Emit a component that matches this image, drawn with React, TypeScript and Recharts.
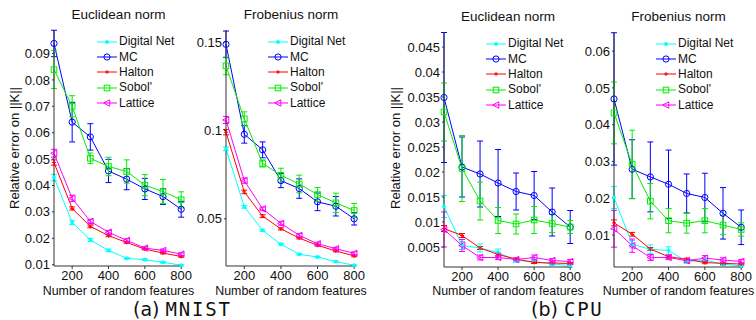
import React from 'react';
import { LineChart, Line, XAxis, YAxis, ErrorBar } from 'recharts';

const FONT = '"Liberation Sans", Arial, Helvetica, sans-serif';

const FEATURES = [100, 200, 300, 400, 500, 600, 700, 800];
const X_TICKS = [200, 400, 600, 800];

// (a) MNIST, Euclidean norm
const mnistEucDigitalNet = [0.043, 0.026, 0.0194, 0.0154, 0.0124, 0.0119, 0.0109, 0.0098];
const mnistEucMC = [0.0938, 0.064, 0.0584, 0.0455, 0.0424, 0.0387, 0.0358, 0.031];
const mnistEucHalton = [0.0487, 0.0313, 0.0245, 0.021, 0.0184, 0.0159, 0.0144, 0.0131];
const mnistEucSobol = [0.0839, 0.07, 0.0503, 0.0472, 0.0453, 0.0401, 0.0377, 0.0346];
const mnistEucLattice = [0.0522, 0.0351, 0.0264, 0.0223, 0.0192, 0.0163, 0.0154, 0.014];
const mnistEucDigitalNetErr = [0.0012, 0.0008, 0.0006, 0.0005, 0.0003, 0.0003, 0.0003, 0.0002];
const mnistEucMCErr = [0.005, 0.0075, 0.005, 0.0044, 0.004, 0.004, 0.003, 0.003];
const mnistEucHaltonErr = [0.001, 0.0006, 0.0005, 0.0004, 0.0003, 0.0003, 0.0003, 0.0003];
const mnistEucSobolErr = [0.0072, 0.004, 0.002, 0.0035, 0.0044, 0.004, 0.0046, 0.003];
const mnistEucLatticeErr = [0.0015, 0.0012, 0.0008, 0.0007, 0.0006, 0.0005, 0.0005, 0.0005];
const mnistEucTicks = [0.01, 0.02, 0.03, 0.04, 0.05, 0.06, 0.07, 0.08, 0.09];

// (a) MNIST, Frobenius norm
const mnistFroDigitalNet = [0.0896, 0.0568, 0.0434, 0.0356, 0.0299, 0.0284, 0.0258, 0.0237];
const mnistFroMC = [0.1487, 0.0978, 0.089, 0.0716, 0.0671, 0.0596, 0.0571, 0.05];
const mnistFroHalton = [0.099, 0.0652, 0.0515, 0.0443, 0.0391, 0.035, 0.0318, 0.029];
const mnistFroSobol = [0.1365, 0.1065, 0.0813, 0.0746, 0.0697, 0.0637, 0.059, 0.0547];
const mnistFroLattice = [0.1059, 0.0716, 0.0556, 0.0474, 0.0406, 0.0359, 0.0331, 0.0305];
const mnistFroDigitalNetErr = [0.001, 0.0008, 0.0006, 0.0005, 0.0004, 0.0004, 0.0004, 0.0003];
const mnistFroMCErr = [0.0075, 0.005, 0.0045, 0.004, 0.0055, 0.005, 0.0055, 0.0035];
const mnistFroHaltonErr = [0.0015, 0.001, 0.0008, 0.0006, 0.0005, 0.0005, 0.0005, 0.0005];
const mnistFroSobolErr = [0.005, 0.004, 0.002, 0.004, 0.005, 0.004, 0.0055, 0.004];
const mnistFroLatticeErr = [0.002, 0.0015, 0.001, 0.001, 0.001, 0.0008, 0.0008, 0.0008];
const mnistFroTicks = [0.05, 0.1, 0.15];

// (b) CPU, Euclidean norm
const cpuEucDigitalNet = [0.0131, 0.0053, 0.0048, 0.0039, 0.0023, 0.0021, 0.0016, 0.0013];
const cpuEucMC = [0.0349, 0.021, 0.0196, 0.0178, 0.0161, 0.0153, 0.012, 0.009];
const cpuEucHalton = [0.0087, 0.0073, 0.0048, 0.0035, 0.0026, 0.0019, 0.0018, 0.0017];
const cpuEucSobol = [0.032, 0.0207, 0.0142, 0.0103, 0.0096, 0.0104, 0.0097, 0.009];
const cpuEucLattice = [0.0085, 0.0053, 0.0029, 0.0029, 0.0025, 0.0029, 0.0023, 0.0021];
const cpuEucDigitalNetErr = [0.0022, 0.0008, 0.0008, 0.0007, 0.0004, 0.0004, 0.0003, 0.0003];
const cpuEucMCErr = [0.013, 0.006, 0.0066, 0.0067, 0.0037, 0.0048, 0.0048, 0.0033];
const cpuEucHaltonErr = [0.0006, 0.0004, 0.0003, 0.0003, 0.0002, 0.0002, 0.0002, 0.0002];
const cpuEucSobolErr = [0.0058, 0.0066, 0.0038, 0.0026, 0.002, 0.0027, 0.0018, 0.0013];
const cpuEucLatticeErr = [0.0035, 0.0012, 0.0005, 0.0004, 0.0003, 0.0005, 0.0004, 0.0004];
const cpuEucTicks = [0.005, 0.01, 0.015, 0.02, 0.025, 0.03, 0.035, 0.04, 0.045];

// (b) CPU, Frobenius norm
const cpuFroDigitalNet = [0.0202, 0.0075, 0.0061, 0.0058, 0.0028, 0.0032, 0.0021, 0.0016];
const cpuFroMC = [0.047, 0.0279, 0.0258, 0.0238, 0.0213, 0.0202, 0.0159, 0.0121];
const cpuFroHalton = [0.0133, 0.0102, 0.0062, 0.0041, 0.0034, 0.0025, 0.0023, 0.0021];
const cpuFroSobol = [0.0432, 0.0292, 0.0192, 0.0139, 0.0132, 0.0139, 0.0127, 0.0115];
const cpuFroLattice = [0.0117, 0.0071, 0.0039, 0.0039, 0.003, 0.0037, 0.0032, 0.0028];
const cpuFroDigitalNetErr = [0.003, 0.001, 0.0012, 0.001, 0.0005, 0.0005, 0.0004, 0.0003];
const cpuFroMCErr = [0.018, 0.008, 0.0095, 0.0093, 0.0053, 0.0066, 0.007, 0.0047];
const cpuFroHaltonErr = [0.0008, 0.0005, 0.0004, 0.0004, 0.0003, 0.0003, 0.0003, 0.0003];
const cpuFroSobolErr = [0.0084, 0.0093, 0.0048, 0.0033, 0.0027, 0.0033, 0.0026, 0.0018];
const cpuFroLatticeErr = [0.005, 0.0018, 0.0008, 0.0006, 0.0005, 0.0007, 0.0006, 0.0005];
const cpuFroTicks = [0.01, 0.02, 0.03, 0.04, 0.05, 0.06];

const SERIES = [
  { key: 'dn', name: 'Digital Net', color: '#00ffff' },
  { key: 'mc', name: 'MC', color: '#0000ff' },
  { key: 'ha', name: 'Halton', color: '#ff0000' },
  { key: 'so', name: "Sobol'", color: '#00ee00' },
  { key: 'la', name: 'Lattice', color: '#ff00ff' },
];

function buildRows(vals: number[][], errs: number[][]) {
  return FEATURES.map((x, i) => {
    const row: any = { x };
    SERIES.forEach((s, j) => {
      row[s.key] = vals[j][i];
      row[s.key + 'E'] = errs[j][i];
    });
    return row;
  });
}

function Marker({ kind, cx, cy, color }: { kind: string; cx: number; cy: number; color: string }) {
  if (cx == null || cy == null) return <g />;
  switch (kind) {
    case 'dn':
      return <circle cx={cx} cy={cy} r={1.7} fill={color} stroke={color} strokeWidth={0.5} />;
    case 'mc':
      return <circle cx={cx} cy={cy} r={3.1} fill="none" stroke={color} strokeWidth={1} />;
    case 'ha':
      return (
        <g stroke={color} strokeWidth={1}>
          <line x1={cx - 2} y1={cy} x2={cx + 2} y2={cy} />
          <line x1={cx} y1={cy - 2} x2={cx} y2={cy + 2} />
        </g>
      );
    case 'so':
      return <rect x={cx - 2.8} y={cy - 2.8} width={5.6} height={5.6} fill="none" stroke={color} strokeWidth={1} />;
    case 'la':
      return (
        <polygon
          points={`${cx - 3.3},${cy} ${cx + 2.8},${cy - 3.2} ${cx + 2.8},${cy + 3.2}`}
          fill="none"
          stroke={color}
          strokeWidth={1}
        />
      );
    default:
      return <g />;
  }
}

const fmt = (v: number) => String(Number(v.toFixed(4)));

type PanelSpec = {
  title: string;
  rows: any[];
  ticks: number[];
  domain: [number, number];
  plotLeft: number;
  plotWidth: number;
  plotTop: number;
  plotBottom: number;
  titleY: number;
  legendLeft: number;
  legendTop: number;
  ylabelX?: number;
};

const PANELS: PanelSpec[] = [
  {
    title: 'Euclidean norm',
    rows: buildRows(
      [mnistEucDigitalNet, mnistEucMC, mnistEucHalton, mnistEucSobol, mnistEucLattice],
      [mnistEucDigitalNetErr, mnistEucMCErr, mnistEucHaltonErr, mnistEucSobolErr, mnistEucLatticeErr]
    ),
    ticks: mnistEucTicks,
    domain: [0.0095, 0.0989],
    plotLeft: 54,
    plotWidth: 129,
    plotTop: 30,
    plotBottom: 266,
    titleY: 15,
    legendLeft: 97,
    legendTop: 34,
    ylabelX: 15,
  },
  {
    title: 'Frobenius norm',
    rows: buildRows(
      [mnistFroDigitalNet, mnistFroMC, mnistFroHalton, mnistFroSobol, mnistFroLattice],
      [mnistFroDigitalNetErr, mnistFroMCErr, mnistFroHaltonErr, mnistFroSobolErr, mnistFroLatticeErr]
    ),
    ticks: mnistFroTicks,
    domain: [0.0233, 0.1568],
    plotLeft: 226,
    plotWidth: 130,
    plotTop: 30,
    plotBottom: 266,
    titleY: 15,
    legendLeft: 268,
    legendTop: 34,
  },
  {
    title: 'Euclidean norm',
    rows: buildRows(
      [cpuEucDigitalNet, cpuEucMC, cpuEucHalton, cpuEucSobol, cpuEucLattice],
      [cpuEucDigitalNetErr, cpuEucMCErr, cpuEucHaltonErr, cpuEucSobolErr, cpuEucLatticeErr]
    ),
    ticks: cpuEucTicks,
    domain: [0.001, 0.048],
    plotLeft: 444,
    plotWidth: 128,
    plotTop: 32,
    plotBottom: 267,
    titleY: 17,
    legendLeft: 486,
    legendTop: 36,
    ylabelX: 396,
  },
  {
    title: 'Frobenius norm',
    rows: buildRows(
      [cpuFroDigitalNet, cpuFroMC, cpuFroHalton, cpuFroSobol, cpuFroLattice],
      [cpuFroDigitalNetErr, cpuFroMCErr, cpuFroHaltonErr, cpuFroSobolErr, cpuFroLatticeErr]
    ),
    ticks: cpuFroTicks,
    domain: [0.0013, 0.0652],
    plotLeft: 614,
    plotWidth: 129,
    plotTop: 32,
    plotBottom: 267,
    titleY: 17,
    legendLeft: 656,
    legendTop: 36,
  },
];

const Y_AXIS_W = 60;
const RIGHT = 12;
const H = 300;

function Panel({ p }: { p: PanelSpec }) {
  const svgLeft = p.plotLeft - Y_AXIS_W;
  const W = Y_AXIS_W + p.plotWidth + RIGHT;
  const cx = p.plotLeft + p.plotWidth / 2;
  return (
    <>
      <div style={{ position: 'absolute', left: svgLeft, top: 0 }}>
        <LineChart
          width={W}
          height={H}
          data={p.rows}
          margin={{ top: p.plotTop, right: RIGHT, bottom: 0, left: 0 }}
        >
          <XAxis
            dataKey="x"
            type="number"
            domain={[100, 810]}
            ticks={X_TICKS}
            height={H - p.plotBottom}
            tickSize={3}
            tickMargin={2}
            axisLine={{ stroke: '#333' }}
            tickLine={{ stroke: '#333' }}
            tick={{ fill: '#111', fontSize: 13, fontFamily: FONT }}
            label={{
              value: 'Number of random features',
              position: 'insideBottom',
              offset: 5,
              fill: '#111',
              fontSize: 12.4,
              fontFamily: FONT,
            }}
          />
          <YAxis
            type="number"
            domain={p.domain}
            ticks={p.ticks}
            width={Y_AXIS_W}
            tickSize={2}
            tickMargin={2}
            tickFormatter={fmt}
            axisLine={{ stroke: '#333' }}
            tickLine={{ stroke: '#333' }}
            tick={{ fill: '#111', fontSize: 13, fontFamily: FONT }}
          />
          {SERIES.map((s) => (
            <Line
              key={s.key}
              dataKey={s.key}
              type="linear"
              stroke={s.color}
              strokeWidth={1}
              isAnimationActive={false}
              activeDot={false}
              dot={(props: any) => (
                <Marker key={`${s.key}-${props.index}`} kind={s.key} cx={props.cx} cy={props.cy} color={s.color} />
              )}
            >
              <ErrorBar
                dataKey={s.key + 'E'}
                direction="y"
                width={3}
                stroke={s.color}
                strokeWidth={1}
                isAnimationActive={false}
              />
            </Line>
          ))}
        </LineChart>
      </div>
      <div
        style={{
          position: 'absolute',
          left: cx - 100,
          top: p.titleY - 8,
          width: 200,
          textAlign: 'center',
          fontFamily: FONT,
          fontSize: 13.5,
          lineHeight: '16px',
          color: '#111',
        }}
      >
        {p.title}
      </div>
      <div style={{ position: 'absolute', left: p.legendLeft, top: p.legendTop }}>
        {SERIES.map((s) => (
          <div
            key={s.key}
            style={{ display: 'flex', alignItems: 'center', height: 15.4, fontFamily: FONT, fontSize: 12, color: '#111' }}
          >
            <svg width={20} height={10} style={{ display: 'block' }}>
              <line x1={0} y1={5} x2={20} y2={5} stroke={s.color} strokeWidth={1} />
              <Marker kind={s.key} cx={10} cy={5} color={s.color} />
            </svg>
            <span style={{ marginLeft: 2, lineHeight: '15px' }}>{s.name}</span>
          </div>
        ))}
      </div>
      {p.ylabelX !== undefined && (
        <div
          style={{
            position: 'absolute',
            left: p.ylabelX - 80,
            top: 148 - 8,
            width: 160,
            height: 16,
            lineHeight: '16px',
            textAlign: 'center',
            transform: 'rotate(-90deg)',
            fontFamily: FONT,
            fontSize: 13,
            color: '#111',
            whiteSpace: 'nowrap',
          }}
        >
          Relative error on ||K||
        </div>
      )}
    </>
  );
}

function Caption({ left, label, name }: { left: number; label: string; name: string }) {
  return (
    <div
      style={{
        position: 'absolute',
        left,
        top: 299.8,
        fontSize: 19,
        lineHeight: '18px',
        height: 18,
        color: '#111',
        whiteSpace: 'nowrap',
      }}
    >
      <span style={{ fontFamily: '"DejaVu Sans", sans-serif', marginRight: 6 }}>{label}</span>
      <span style={{ fontFamily: '"DejaVu Sans Mono", monospace', letterSpacing: 1.8 }}>{name}</span>
    </div>
  );
}

export default function App() {
  return (
    <div style={{ position: 'absolute', left: 0, top: 0, width: 756, height: 320, background: '#fff', overflow: 'hidden' }}>
      {PANELS.map((p, i) => (
        <Panel key={i} p={p} />
      ))}
      <Caption left={133} label="(a)" name="MNIST" />
      <Caption left={531} label="(b)" name="CPU" />
    </div>
  );
}
